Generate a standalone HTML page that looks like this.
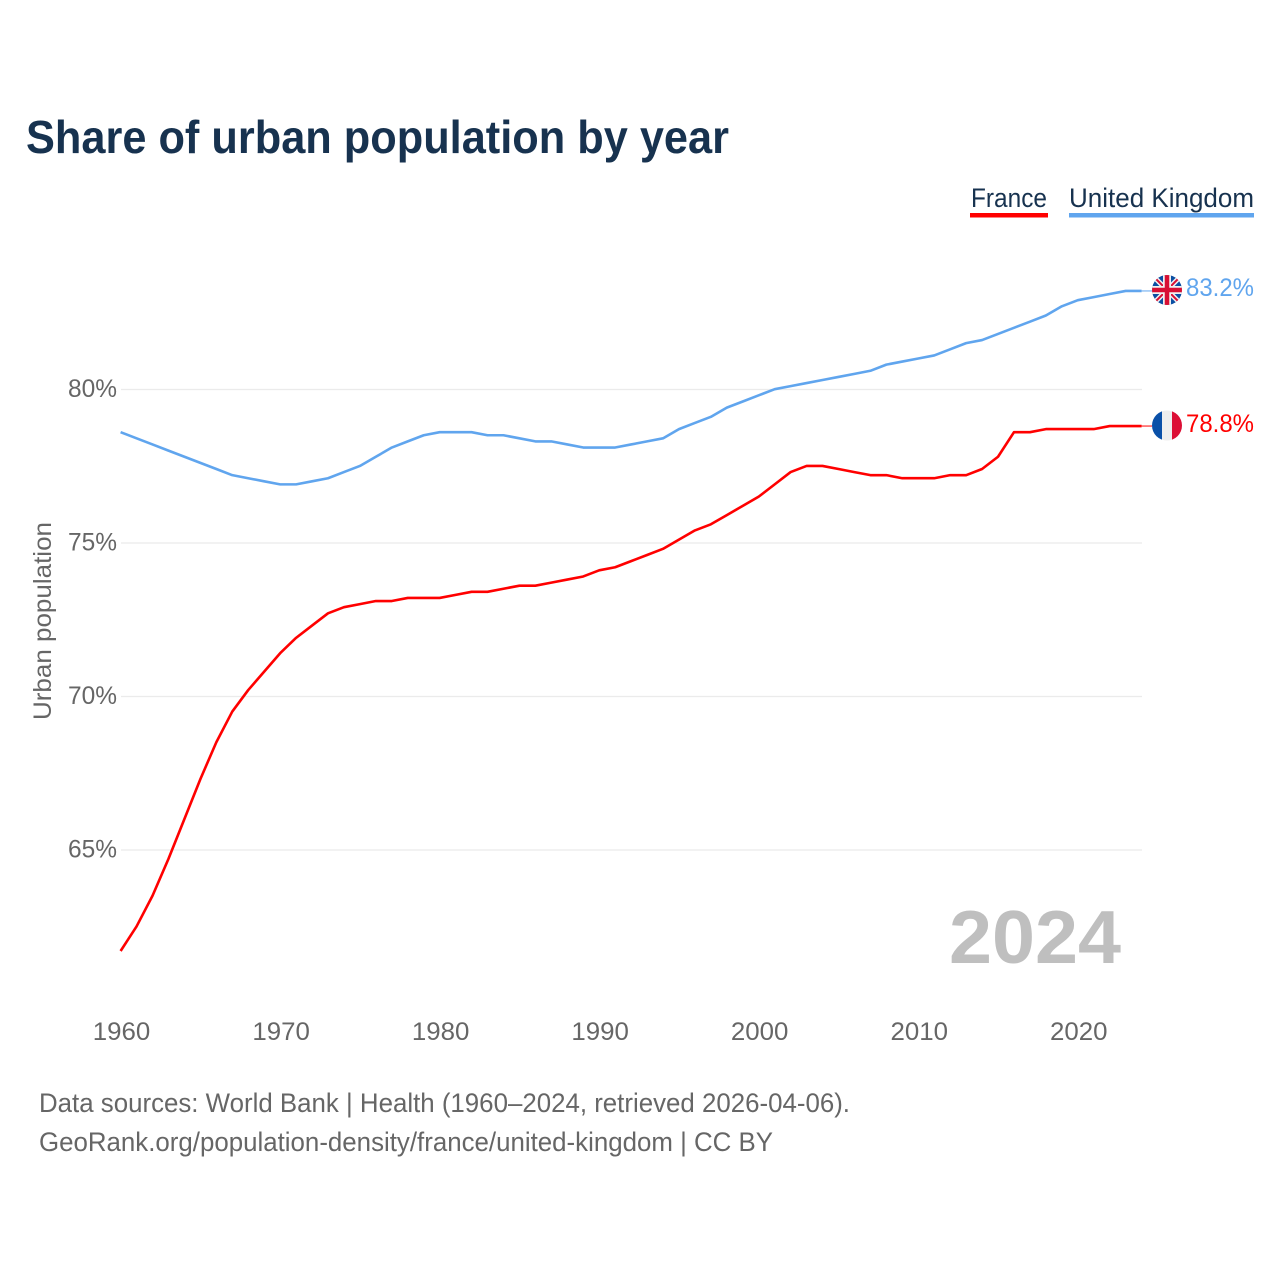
<!DOCTYPE html>
<html lang="en">
<head>
<meta charset="utf-8">
<title>Share of urban population by year</title>
<style>
html,body{margin:0;padding:0;background:#fff;}
svg{display:block;font-family:"Liberation Sans",sans-serif;}
</style>
</head>
<body>
<svg id="chart" xmlns="http://www.w3.org/2000/svg" width="1280" height="1280" viewBox="0 0 1280 1280">
  <defs>
    <clipPath id="clip-uk"><circle cx="1167" cy="290" r="15"/></clipPath>
    <clipPath id="clip-fr"><circle cx="1167" cy="425.5" r="15"/></clipPath>
  </defs>
  <rect width="1280" height="1280" fill="#fff"/>
  <text x="26" y="153" font-size="46" font-weight="700" fill="#17324f" textLength="703" lengthAdjust="spacingAndGlyphs">Share of urban population by year</text>

  <g>
    <g>
      <text x="971" y="207" font-size="27" fill="#17324f" textLength="76" lengthAdjust="spacingAndGlyphs">France</text>
      <rect x="970" y="213" width="78" height="4.5" fill="#ff0000"/>
    </g>
    <g>
      <text x="1069" y="207" font-size="27" fill="#17324f" textLength="185" lengthAdjust="spacingAndGlyphs">United Kingdom</text>
      <rect x="1069" y="213" width="185" height="4.5" fill="#60a5ee"/>
    </g>
  </g>

  <g id="grid"></g>
  <g id="yticks"></g>
  <g id="xticks"></g>

  <text transform="translate(51,720) rotate(-90)" font-size="25" fill="#666" textLength="198" lengthAdjust="spacingAndGlyphs">Urban population</text>

  <text x="949" y="963" font-size="75" font-weight="700" fill="#bfbfbf" textLength="172" lengthAdjust="spacingAndGlyphs">2024</text>

  <g id="series"></g>

  <g clip-path="url(#clip-uk)">
    <rect x="1152" y="275" width="30" height="30" fill="#0b4ea2"/>
    <path d="M1152 275L1182 305M1182 275L1152 305" stroke="#f0f0f0" stroke-width="5"/>
    <path d="M1152 275L1182 305M1182 275L1152 305" stroke="#d80f33" stroke-width="2"/>
    <path d="M1167 275V305M1152 290H1182" stroke="#f0f0f0" stroke-width="8"/>
    <path d="M1167 275V305M1152 290H1182" stroke="#d80f33" stroke-width="4.5"/>
  </g>
  <g clip-path="url(#clip-fr)">
    <rect x="1152" y="410.5" width="10" height="30" fill="#0a50a8"/>
    <rect x="1162" y="410.5" width="10" height="30" fill="#eeeeee"/>
    <rect x="1172" y="410.5" width="10" height="30" fill="#dc0f35"/>
  </g>

  <text x="1186" y="296" font-size="25" fill="#60a5ee" textLength="68" lengthAdjust="spacingAndGlyphs">83.2%</text>
  <text x="1186" y="432" font-size="25" fill="#ff0000" textLength="68" lengthAdjust="spacingAndGlyphs">78.8%</text>

  <g>
    <text x="39" y="1112" font-size="27" fill="#666" textLength="811" lengthAdjust="spacingAndGlyphs">Data sources: World Bank | Health (1960–2024, retrieved 2026-04-06).</text>
    <text x="39" y="1151" font-size="27" fill="#666" textLength="734" lengthAdjust="spacingAndGlyphs">GeoRank.org/population-density/france/united-kingdom | CC BY</text>
  </g>
</svg>
<script>
const years = [1960,1961,1962,1963,1964,1965,1966,1967,1968,1969,1970,1971,1972,1973,1974,1975,1976,1977,1978,1979,1980,1981,1982,1983,1984,1985,1986,1987,1988,1989,1990,1991,1992,1993,1994,1995,1996,1997,1998,1999,2000,2001,2002,2003,2004,2005,2006,2007,2008,2009,2010,2011,2012,2013,2014,2015,2016,2017,2018,2019,2020,2021,2022,2023,2024];
const franceValues = [61.7,62.5,63.5,64.7,66.0,67.3,68.5,69.5,70.2,70.8,71.4,71.9,72.3,72.7,72.9,73.0,73.1,73.1,73.2,73.2,73.2,73.3,73.4,73.4,73.5,73.6,73.6,73.7,73.8,73.9,74.1,74.2,74.4,74.6,74.8,75.1,75.4,75.6,75.9,76.2,76.5,76.9,77.3,77.5,77.5,77.4,77.3,77.2,77.2,77.1,77.1,77.1,77.2,77.2,77.4,77.8,78.6,78.6,78.7,78.7,78.7,78.7,78.8,78.8,78.8];
const ukValues = [78.6,78.4,78.2,78.0,77.8,77.6,77.4,77.2,77.1,77.0,76.9,76.9,77.0,77.1,77.3,77.5,77.8,78.1,78.3,78.5,78.6,78.6,78.6,78.5,78.5,78.4,78.3,78.3,78.2,78.1,78.1,78.1,78.2,78.3,78.4,78.7,78.9,79.1,79.4,79.6,79.8,80.0,80.1,80.2,80.3,80.4,80.5,80.6,80.8,80.9,81.0,81.1,81.3,81.5,81.6,81.8,82.0,82.2,82.4,82.7,82.9,83.0,83.1,83.2,83.2];
const yTickValues = [65,70,75,80];
const xTickValues = [1960,1970,1980,1990,2000,2010,2020];

const NS = 'http://www.w3.org/2000/svg';
const plotLeft = 120.6, plotRight = 1141.6, flagEdge = 1152;
function xScale(year) { return plotLeft + (year - 1960) * (plotRight - plotLeft) / 64; }
function yScale(value) { return 389.2 + (80 - value) * 30.7; }

const gridGroup = document.getElementById('grid');
const yTickGroup = document.getElementById('yticks');
const xTickGroup = document.getElementById('xticks');
const seriesGroup = document.getElementById('series');

yTickValues.forEach(function (v) {
  const line = document.createElementNS(NS, 'line');
  
  
  line.setAttribute('x1', 121);
  line.setAttribute('x2', 1142);
  line.setAttribute('y1', yScale(v) + 0.3);
  line.setAttribute('y2', yScale(v) + 0.3);
  line.setAttribute('stroke', '#ebebeb');
  line.setAttribute('stroke-width', '1.3');
  gridGroup.appendChild(line);

  const label = document.createElementNS(NS, 'text');
  
  
  label.setAttribute('x', 68);
  label.setAttribute('y', yScale(v) + 8);
  label.setAttribute('font-size', '25');
  label.setAttribute('fill', '#666');
  label.setAttribute('textLength', '49');
  label.setAttribute('lengthAdjust', 'spacingAndGlyphs');
  label.textContent = v + '%';
  yTickGroup.appendChild(label);
});

xTickValues.forEach(function (y) {
  const label = document.createElementNS(NS, 'text');
  
  
  label.setAttribute('x', xScale(y) - 27.8);
  label.setAttribute('y', 1040);
  label.setAttribute('font-size', '25');
  label.setAttribute('fill', '#666');
  label.setAttribute('textLength', '57.5');
  label.setAttribute('lengthAdjust', 'spacingAndGlyphs');
  label.textContent = y;
  xTickGroup.appendChild(label);
});

function drawSeries(values, color, name) {
  const d = values.map(function (v, i) {
    return (i ? 'L' : 'M') + xScale(years[i]).toFixed(2) + ' ' + yScale(v).toFixed(2);
  }).join('');
  const path = document.createElementNS(NS, 'path');
  
  
  path.setAttribute('d', d);
  path.setAttribute('fill', 'none');
  path.setAttribute('stroke', color);
  path.setAttribute('stroke-width', '2.6');
  path.setAttribute('stroke-linejoin', 'round');
  seriesGroup.appendChild(path);

  const last = yScale(values[values.length - 1]);
  const leader = document.createElementNS(NS, 'line');
  
  
  leader.setAttribute('x1', plotRight);
  leader.setAttribute('x2', flagEdge);
  leader.setAttribute('y1', last);
  leader.setAttribute('y2', last);
  leader.setAttribute('stroke', color);
  leader.setAttribute('stroke-width', '1');
  seriesGroup.appendChild(leader);
}
drawSeries(ukValues, '#60a5ee', 'united-kingdom');
drawSeries(franceValues, '#ff0000', 'france');
</script>
</body>
</html>
